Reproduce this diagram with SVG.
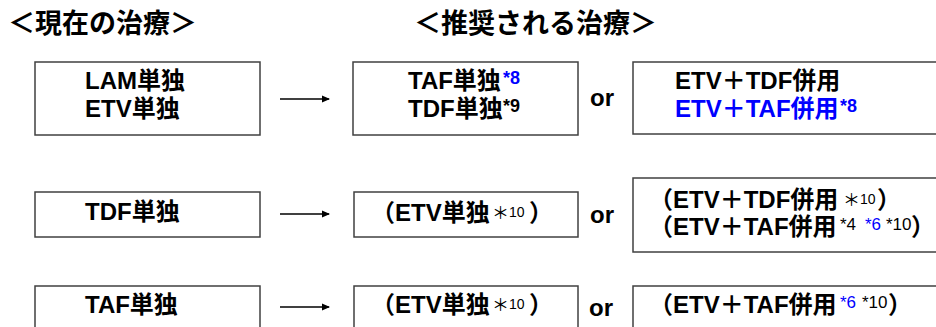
<svg xmlns="http://www.w3.org/2000/svg" width="936" height="327" viewBox="0 0 936 327">
<style>
text{font-family:"Liberation Sans","Noto Sans CJK JP",sans-serif;font-weight:bold;font-size:24px;fill:#000}
.t{font-size:27px}
.b{fill:#0000ff}
.s{font-size:18px}
.sr{font-size:17px;font-weight:normal}
.n{font-size:14px;font-weight:normal}
.st{font-size:17px;font-weight:normal}
.box{fill:#fff;stroke:#404040;stroke-width:1.5}
.ar{stroke:#000;stroke-width:1.3;fill:none}
</style>
<defs>
<marker id="ah" markerWidth="8" markerHeight="8" refX="7" refY="4" orient="auto" markerUnits="userSpaceOnUse">
<path d="M0,0.5 L8,4 L0,7.5 z" fill="#000"/>
</marker>
</defs>
<g id="titles">
<text class="t" x="8" y="33">＜現在の治療＞</text>
<text class="t" x="414" y="33">＜推奨される治療＞</text>
</g>
<g id="current1"><rect class="box" x="35" y="62" width="225" height="73"/>
<text x="85" y="89">LAM単独</text><text x="85" y="117">ETV単独</text></g>
<g id="rec1a"><rect class="box" x="353" y="62" width="225" height="73"/>
<text x="408" y="89">TAF単独<tspan class="s b" x="503" dy="-5">*8</tspan></text>
<text x="408" y="117">TDF単独<tspan class="s" x="503" dy="-5">*9</tspan></text></g>
<g id="rec1b"><rect class="box" x="633" y="62" width="310" height="72"/>
<text x="675" y="89">ETV＋TDF併用</text>
<text x="675" y="117" class="b">ETV＋TAF併用<tspan class="s" x="840" dy="-5">*8</tspan></text></g>
<g id="current2"><rect class="box" x="35" y="192" width="225" height="45"/>
<text x="85" y="220">TDF単独</text></g>
<g id="rec2a"><rect class="box" x="354" y="192" width="224" height="45"/>
<text x="371" y="221">（ETV単独<tspan class="st" x="492" dy="-2">＊</tspan><tspan class="n" x="509" dy="-2">10</tspan><tspan x="529" dy="4">）</tspan></text></g>
<g id="rec2b"><rect class="box" x="633" y="178" width="310" height="74"/>
<text x="649" y="208">（ETV＋TDF併用<tspan class="st" x="843" dy="-2">＊</tspan><tspan class="n" x="860" dy="-2">10</tspan><tspan x="877" dy="4">）</tspan></text>
<text x="649" y="235">（ETV＋TAF併用<tspan class="sr" x="840" dy="-5">*4</tspan><tspan class="sr b" x="865">*6</tspan><tspan class="sr" x="886">*10</tspan><tspan x="911" dy="5">）</tspan></text></g>
<g id="current3"><rect class="box" x="35" y="286" width="225" height="60"/>
<text x="85" y="313">TAF単独</text></g>
<g id="rec3a"><rect class="box" x="354" y="286" width="224" height="60"/>
<text x="371" y="313">（ETV単独<tspan class="st" x="492" dy="-2">＊</tspan><tspan class="n" x="509" dy="-2">10</tspan><tspan x="529" dy="4">）</tspan></text></g>
<g id="rec3b"><rect class="box" x="633" y="286" width="310" height="60"/>
<text x="649" y="313">（ETV＋TAF併用<tspan class="sr b" x="840" dy="-5">*6</tspan><tspan class="sr" x="862">*10</tspan><tspan x="888" dy="5">）</tspan></text></g>
<g id="or">
<text x="590" y="106">or</text><text x="590" y="223">or</text><text x="589" y="316">or</text>
</g>
<g id="connectors">
<line class="ar" x1="280" y1="99" x2="329" y2="99" marker-end="url(#ah)"/>
<line class="ar" x1="280" y1="214" x2="329" y2="214" marker-end="url(#ah)"/>
<line class="ar" x1="280" y1="307" x2="329" y2="307" marker-end="url(#ah)"/>
</g>
</svg>
